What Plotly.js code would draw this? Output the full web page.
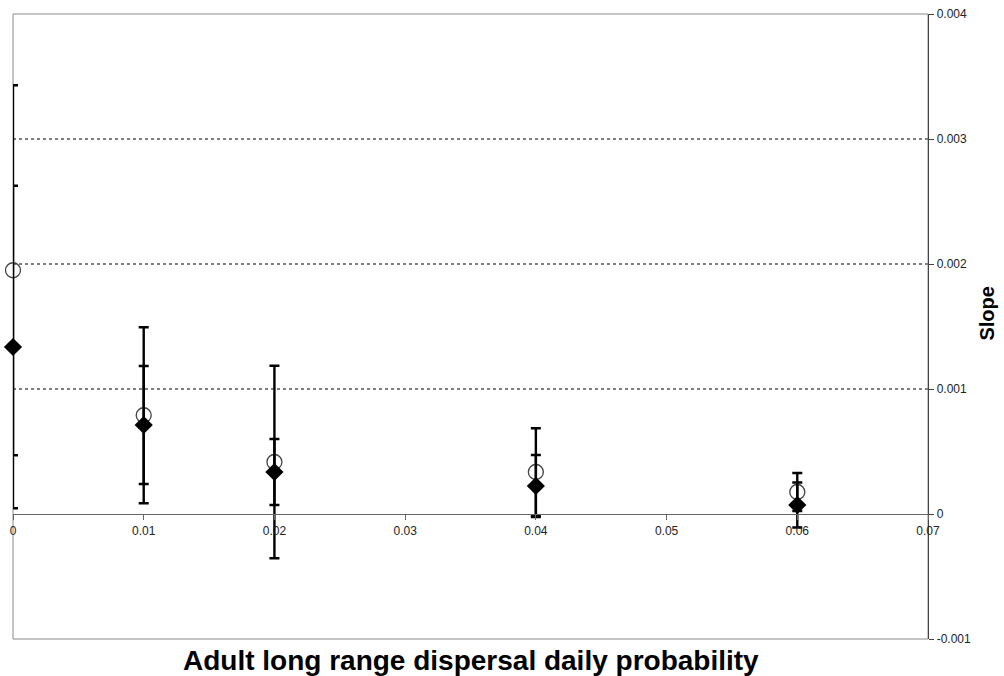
<!DOCTYPE html>
<html>
<head>
<meta charset="utf-8">
<script src="https://cdn.plot.ly/plotly-3.0.1.min.js"></script>
<style>
  html, body { margin: 0; padding: 0; background: #fff; }
  #chart { width: 1004px; height: 676px; }
</style>
</head>
<body>
<div id="chart"></div>
<script>
// Data
const xVals = [0, 0.01, 0.02, 0.04, 0.06];
const circleVals = [0.00195, 0.00079, 0.000416, 0.000336, 0.000176];
const circleErr = [0.00148, 0.000704, 0.00077, 0.00035, 0.000152];
const diamondVals = [0.001336, 0.000712, 0.000336, 0.000224, 0.000072];
const diamondErr = [0.00129, 0.000472, 0.000264, 0.000248, 0.00018];

const xTickVals = [0, 0.01, 0.02, 0.03, 0.04, 0.05, 0.06, 0.07];
const xTickText = ['0', '0.01', '0.02', '0.03', '0.04', '0.05', '0.06', '0.07'];
const yTickVals = [-0.001, 0, 0.001, 0.002, 0.003, 0.004];
const yTickText = ['-0.001', '0', '0.001', '0.002', '0.003', '0.004'];
const gridVals = [0.001, 0.002, 0.003];

const xTitle = 'Adult long range dispersal daily probability';
const yTitle = 'Slope';

const traces = [
  {
    x: xVals, y: circleVals, type: 'scatter', mode: 'markers',
    cliponaxis: false,
    marker: { symbol: 'circle-open', size: 15, color: '#444', line: { width: 1.3, color: '#444' } },
    error_y: { type: 'data', array: circleErr, visible: true, color: '#000', thickness: 2.4, width: 5 },
    showlegend: false
  },
  {
    x: xVals, y: diamondVals, type: 'scatter', mode: 'markers',
    cliponaxis: false,
    marker: { symbol: 'diamond', size: 14, color: '#000' },
    error_y: { type: 'data', array: diamondErr, visible: true, color: '#000', thickness: 2.4, width: 5 },
    showlegend: false
  }
];

const shapes = gridVals.map(v => ({
  type: 'line', xref: 'paper', yref: 'y', x0: 0, x1: 1, y0: v, y1: v,
  line: { color: '#000', width: 1.2, dash: 'dot' }, layer: 'below'
}));
shapes.push({
  type: 'rect', xref: 'paper', yref: 'paper', x0: 0, x1: 1, y0: 0, y1: 1,
  line: { color: '#8a8a8a', width: 1 }, layer: 'below'
});

const layout = {
  width: 1004, height: 676,
  margin: { l: 13, r: 76, t: 14, b: 37 },
  paper_bgcolor: '#fff', plot_bgcolor: '#fff',
  font: { family: 'Liberation Sans, Arial, sans-serif', color: '#222' },
  xaxis: {
    range: [0, 0.07], anchor: 'free', position: 0.2,
    tickvals: xTickVals, ticktext: xTickText,
    ticks: 'outside', ticklen: 5, tickcolor: '#666', tickwidth: 1,
    showline: true, linecolor: '#666', linewidth: 1.3,
    showgrid: false, zeroline: false,
    tickfont: { family: 'Liberation Sans Narrow, Liberation Sans, Arial, sans-serif', size: 12, color: '#222' }
  },
  yaxis: {
    range: [-0.001, 0.004], side: 'right',
    tickvals: yTickVals, ticktext: yTickText,
    ticks: 'outside', ticklen: 5, tickcolor: '#444', tickwidth: 1,
    showline: true, linecolor: '#444', linewidth: 1.3,
    showgrid: false, zeroline: false,
    tickfont: { family: 'Liberation Sans, Arial, sans-serif', size: 12, color: '#222' }
  },
  shapes: shapes,
  annotations: [
    {
      text: xTitle, xref: 'paper', yref: 'paper', x: 0.5, y: -0.034,
      xanchor: 'center', yanchor: 'middle', showarrow: false,
      font: { family: 'Liberation Sans, Arial, sans-serif', size: 28, color: '#000', weight: 'bold' }
    },
    {
      text: yTitle, xref: 'paper', yref: 'paper', x: 1.064, y: 0.52,
      xanchor: 'center', yanchor: 'middle', showarrow: false, textangle: -90,
      font: { family: 'Liberation Sans, Arial, sans-serif', size: 20, color: '#000', weight: 'bold' }
    }
  ]
};

Plotly.newPlot('chart', traces, layout, { displayModeBar: false, staticPlot: true });
</script>
</body>
</html>
